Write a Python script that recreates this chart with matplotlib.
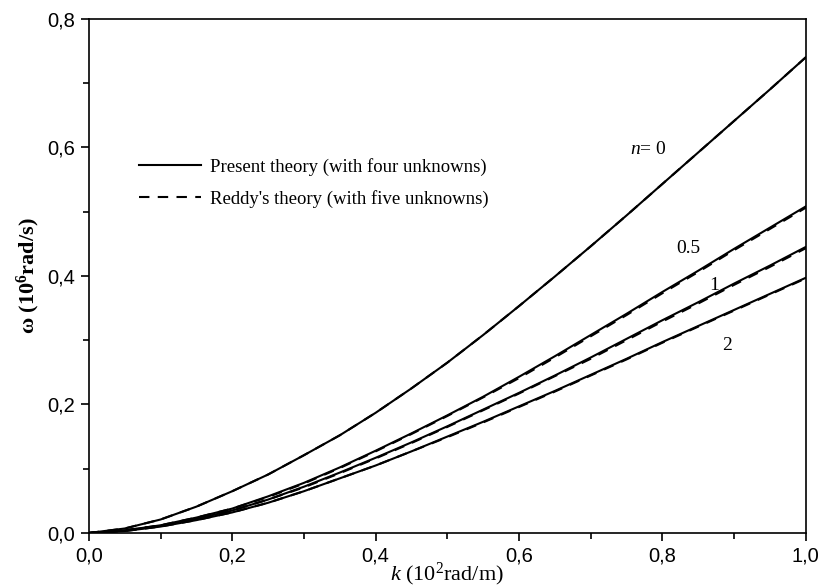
import numpy as np
import matplotlib
matplotlib.use("Agg")
import matplotlib.pyplot as plt
from matplotlib.ticker import MultipleLocator, FuncFormatter

plt.rcParams['mathtext.fontset'] = 'custom'
plt.rcParams['mathtext.rm'] = 'Liberation Serif'
plt.rcParams['mathtext.it'] = 'Liberation Serif:italic'
plt.rcParams['mathtext.bf'] = 'Liberation Serif:bold'

# Wave number k (10^2 rad/m)
k = [0.0, 0.05, 0.1, 0.15, 0.2, 0.25, 0.3, 0.35, 0.4, 0.45, 0.5,
     0.55, 0.6, 0.65, 0.7, 0.75, 0.8, 0.85, 0.9, 0.95, 1.0]

# Frequency omega (10^6 rad/s), present theory (four unknowns)
present_n0 = [0.0, 0.007, 0.021, 0.041, 0.065, 0.091, 0.121, 0.152, 0.187, 0.225, 0.265,
              0.308, 0.353, 0.399, 0.446, 0.494, 0.543, 0.592, 0.641, 0.690, 0.740]
present_n05 = [0.0, 0.004, 0.012, 0.024, 0.038, 0.057, 0.078, 0.102, 0.128, 0.155, 0.183,
               0.212, 0.243, 0.275, 0.308, 0.341, 0.375, 0.408, 0.442, 0.475, 0.508]
present_n1 = [0.0, 0.004, 0.011, 0.022, 0.035, 0.052, 0.072, 0.094, 0.117, 0.141, 0.166,
              0.192, 0.218, 0.245, 0.273, 0.302, 0.331, 0.359, 0.388, 0.416, 0.445]
present_n2 = [0.0, 0.003, 0.010, 0.020, 0.032, 0.047, 0.065, 0.085, 0.105, 0.127, 0.150,
              0.173, 0.197, 0.221, 0.246, 0.271, 0.297, 0.322, 0.347, 0.372, 0.397]

# Frequency omega (10^6 rad/s), Reddy's theory (five unknowns)
reddy_n0 = [0.0, 0.007, 0.021, 0.041, 0.065, 0.091, 0.121, 0.152, 0.187, 0.225, 0.265,
            0.308, 0.353, 0.399, 0.446, 0.494, 0.543, 0.592, 0.641, 0.690, 0.740]
reddy_n05 = [0.0, 0.004, 0.012, 0.024, 0.038, 0.056, 0.077, 0.101, 0.127, 0.154, 0.182,
             0.211, 0.241, 0.273, 0.306, 0.339, 0.373, 0.406, 0.440, 0.473, 0.506]
reddy_n1 = [0.0, 0.004, 0.011, 0.022, 0.035, 0.052, 0.071, 0.093, 0.116, 0.140, 0.165,
            0.191, 0.217, 0.244, 0.271, 0.300, 0.329, 0.357, 0.386, 0.414, 0.443]
reddy_n2 = [0.0, 0.003, 0.010, 0.020, 0.032, 0.047, 0.065, 0.085, 0.105, 0.127, 0.149,
            0.172, 0.196, 0.220, 0.245, 0.270, 0.296, 0.321, 0.346, 0.371, 0.396]

curve_labels = ['$n$= 0', '0.5', '1', '2']

fig = plt.figure(figsize=(8.23, 5.87), dpi=100)
ax = fig.add_axes([0.108, 0.092, 0.871, 0.876])

lw = 1.5
present = [present_n0, present_n05, present_n1, present_n2]
reddy = [reddy_n0, reddy_n05, reddy_n1, reddy_n2]
for i, ys in enumerate(present):
    ax.plot(k, ys, color='black', lw=lw, solid_joinstyle='round',
            label='Present theory (with four unknowns)' if i == 0 else None)
for i, ys in enumerate(reddy):
    ax.plot(k, ys, color='black', lw=lw, ls=(0, (5, 4)),
            label="Reddy's theory (with five unknowns)" if i == 0 else None)

serif = 'Liberation Serif'
label_pos = [(0.755, 0.597), (0.819, 0.443), (0.866, 0.385), (0.884, 0.292)]
for txt, (x, y) in zip(curve_labels, label_pos):
    ax.text(x, y, txt, fontsize=14, family=serif, va='center', ha='left')

ax.set_xlim(0, 1.0)
ax.set_ylim(0, 0.8)
ax.xaxis.set_major_locator(MultipleLocator(0.2))
ax.xaxis.set_minor_locator(MultipleLocator(0.1))
ax.yaxis.set_major_locator(MultipleLocator(0.2))
ax.yaxis.set_minor_locator(MultipleLocator(0.1))
comma = FuncFormatter(lambda v, p: f"{v:.1f}".replace('.', ','))
ax.xaxis.set_major_formatter(comma)
ax.yaxis.set_major_formatter(comma)
ax.tick_params(which='both', direction='out', top=False, right=False,
               width=1.2, labelsize=14.5)
ax.tick_params(which='major', length=6, pad=4)
ax.tick_params(which='minor', length=4)
for lab in ax.get_xticklabels() + ax.get_yticklabels():
    lab.set_family('Liberation Sans')
for s in ax.spines.values():
    s.set_linewidth(1.2)

ax.set_xlabel('$k$ (10$^{2}$rad/m)', fontsize=16, family=serif, labelpad=-4)
ax.set_ylabel('ω (10$^{\\mathbf{6}}$rad/s)', fontsize=16, family=serif,
              fontweight='bold', labelpad=4)

leg = ax.legend(loc='upper left', bbox_to_anchor=(0.06, 0.744), frameon=False,
                prop={'family': serif, 'size': 13.5}, handlelength=3.3,
                handletextpad=0.45, labelspacing=0.75, borderaxespad=0.0)

fig.savefig('out.png', dpi=100)
